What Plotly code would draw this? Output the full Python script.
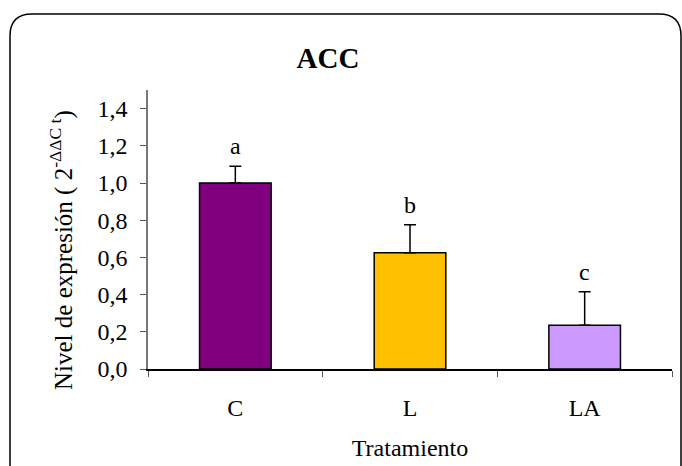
import plotly.graph_objects as go

categories = ["C", "L", "LA"]
values = [1.0, 0.625, 0.235]
errors = [0.09, 0.15, 0.18]
letters = ["a", "b", "c"]
colors = ["#800080", "#FFC000", "#CC99FF"]
ytick_vals = [0.0, 0.2, 0.4, 0.6, 0.8, 1.0, 1.2, 1.4]

W, H = 682, 466
L, R, T, B = 148, 10, 90, 97
pw, ph = W - L - R, H - T - B

FONT = "Liberation Serif, Times New Roman, serif"
FS = 24

fig = go.Figure()
fig.add_trace(go.Bar(
    x=categories, y=values,
    marker=dict(color=colors, line=dict(color="black", width=1.5)),
    error_y=dict(type="data", symmetric=False, array=errors,
                 arrayminus=[0] * len(errors), color="black",
                 thickness=1.5, width=6),
    width=0.41,
))

for c, v, e, t in zip(categories, values, errors, letters):
    fig.add_annotation(x=c, y=v + e, text=t, showarrow=False,
                       yanchor="bottom", yshift=5,
                       font=dict(family=FONT, size=FS, color="black"))

def px(x):
    return (x - L) / pw

def py(y):
    return (H - B - y) / ph

# y-axis title as rotated annotation
fig.add_annotation(x=px(61), y=py(250), xref="paper", yref="paper",
                   text="Nivel de expresión ( 2<sup>-ΔΔC t</sup>)",
                   textangle=-90, showarrow=False,
                   xanchor="center", yanchor="middle",
                   font=dict(family=FONT, size=25, color="black"))

x0, x1, y0, y1, r = 10, 681, 14, 490, 22
path = (f"M {px(x0)},{py(y1)} L {px(x0)},{py(y0 + r)} "
        f"Q {px(x0)},{py(y0)} {px(x0 + r)},{py(y0)} "
        f"L {px(x1 - r)},{py(y0)} Q {px(x1)},{py(y0)} {px(x1)},{py(y0 + r)} "
        f"L {px(x1)},{py(y1)}")
fig.add_shape(type="path", path=path, xref="paper", yref="paper",
              line=dict(color="black", width=1.5))

fig.update_layout(
    width=W, height=H,
    margin=dict(l=L, r=R, t=T, b=B),
    paper_bgcolor="white", plot_bgcolor="white",
    separators=",.",
    showlegend=False,
    title=dict(text="<b>ACC</b>", x=328 / W, xanchor="center",
               y=1 - 58 / H, yanchor="middle",
               font=dict(family=FONT, size=29, color="black")),
    font=dict(family=FONT, size=FS, color="black"),
    xaxis=dict(
        showline=True, linecolor="black", linewidth=1.5,
        ticks="outside", tickson="boundaries", ticklen=6,
        tickcolor="#555555", tickwidth=1,
        ticklabelstandoff=16,
        tickfont=dict(family=FONT, size=FS),
        title=dict(text="Tratamiento", standoff=20,
                   font=dict(family=FONT, size=FS)),
        showgrid=False, zeroline=False,
    ),
    yaxis=dict(
        range=[0, 1.5], tickvals=ytick_vals, tickformat=".1f",
        showline=True, linecolor="#777777", linewidth=1.5,
        ticks="outside", ticklen=6, tickcolor="#555555", tickwidth=1,
        ticklabelstandoff=8,
        tickfont=dict(family=FONT, size=FS),
        showgrid=False, zeroline=False,
    ),
)

fig.write_html("out.html")
